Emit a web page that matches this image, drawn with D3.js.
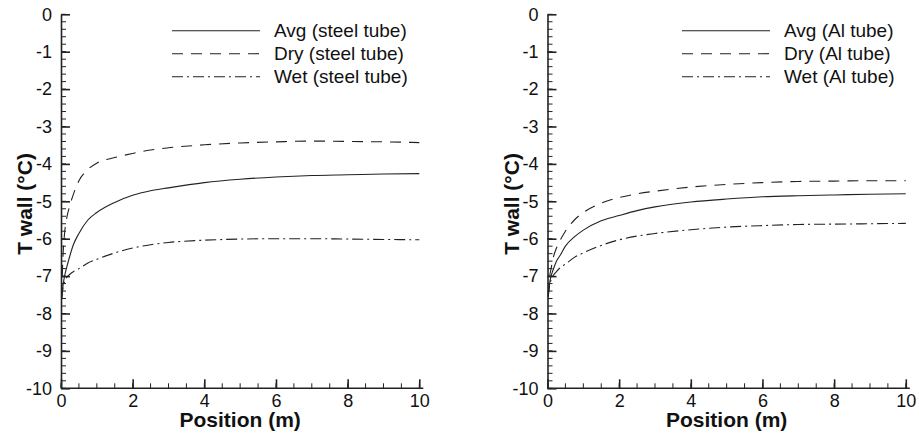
<!DOCTYPE html>
<html lang="en">
<head>
<meta charset="UTF-8">
<title>T wall</title>
<style>
  body { margin: 0; background: #fff; }
  svg { display: block; font-family: Arial, "Liberation Sans", sans-serif; }
  .axis path, .axis line { fill: none; stroke: #222; }
  .tick text { font-family: Arial, "Liberation Sans", sans-serif; font-size: 18px; fill: #111; }
  .title { font-size: 21px; font-weight: bold; fill: #111; }
  .legend text { font-size: 19px; fill: #111; }
</style>
</head>
<body>
<script src="https://cdn.jsdelivr.net/npm/d3@7"></script>
<script>
// data
var position = [0.02, 0.05, 0.1, 0.15, 0.25, 0.35, 0.5, 0.75, 1, 1.5, 2, 2.5, 3, 4, 5, 6, 7, 8, 9, 10]

var steelAvg = [-7.6, -7.3, -7.0, -6.8, -6.45, -6.15, -5.86, -5.5, -5.3, -5.03, -4.84, -4.72, -4.64, -4.5, -4.41, -4.35, -4.31, -4.29, -4.27, -4.26]
var steelDry = [-7.5, -6.6, -5.85, -5.5, -5.1, -4.8, -4.45, -4.15, -3.98, -3.83, -3.72, -3.63, -3.57, -3.49, -3.44, -3.41, -3.39, -3.4, -3.41, -3.43]
var steelWet = [-7.6, -7.35, -7.15, -7.05, -6.95, -6.88, -6.8, -6.65, -6.55, -6.38, -6.25, -6.16, -6.1, -6.04, -6.01, -6.0, -6.0, -6.01, -6.02, -6.03]

var alAvg = [-7.55, -7.25, -7.0, -6.85, -6.6, -6.45, -6.2, -5.95, -5.77, -5.52, -5.38, -5.25, -5.15, -5.02, -4.94, -4.88, -4.85, -4.83, -4.81, -4.8]
var alDry = [-7.5, -7.1, -6.8, -6.55, -6.25, -6.05, -5.8, -5.5, -5.3, -5.05, -4.9, -4.8, -4.73, -4.62, -4.55, -4.5, -4.47, -4.46, -4.45, -4.45]
var alWet = [-7.55, -7.3, -7.1, -7.0, -6.88, -6.78, -6.68, -6.5, -6.38, -6.18, -6.03, -5.93, -5.86, -5.76, -5.69, -5.65, -5.62, -5.61, -5.6, -5.59]

var xTicks = [0, 2, 4, 6, 8, 10]
var yTicks = [0, -1, -2, -3, -4, -5, -6, -7, -8, -9, -10]

var styles = ['none', '11,8', '11,4,2,4']

var panels = [
  { left: 61, names: ['Avg (steel tube)', 'Dry (steel tube)', 'Wet (steel tube)'], series: [steelAvg, steelDry, steelWet], legendX: 172 },
  { left: 547.5, names: ['Avg (Al tube)', 'Dry (Al tube)', 'Wet (Al tube)'], series: [alAvg, alDry, alWet], legendX: 682 }
]

var width = 919, height = 434
var svg = d3.select('body').append('svg')
  .attr('width', width)
  .attr('height', height)

var plotTop = 14.3, plotBottom = 388.3, plotW = 358.3
var plain = function (d) { return String(d) }  // hyphen minus like the original

panels.forEach(function (p) {
  var x = d3.scaleLinear().domain([0, 10]).range([p.left, p.left + plotW])
  var y = d3.scaleLinear().domain([-10, 0]).range([plotBottom, plotTop])

  // minor ticks
  var g = svg.append('g')
  g.selectAll('.ymin').data(d3.range(-10, 0.01, 0.2))
    .enter().append('line')
    .attr('x1', p.left).attr('x2', p.left + 5)
    .attr('y1', function (d) { return y(d) }).attr('y2', function (d) { return y(d) })
    .attr('stroke', '#222').attr('stroke-width', 1)
  g.selectAll('.xmin').data(d3.range(0, 10.01, 0.5))
    .enter().append('line')
    .attr('x1', function (d) { return x(d) }).attr('x2', function (d) { return x(d) })
    .attr('y1', plotBottom).attr('y2', plotBottom - 5)
    .attr('stroke', '#222').attr('stroke-width', 1)

  // axes, ticks pointing inward
  var xAxis = d3.axisBottom(x).tickValues(xTicks).tickFormat(plain).tickSizeInner(-9).tickSizeOuter(0).tickPadding(6)
  var yAxis = d3.axisLeft(y).tickValues(yTicks).tickFormat(plain).tickSizeInner(-9).tickSizeOuter(0).tickPadding(9)

  var gx = svg.append('g').attr('class', 'axis')
    .attr('transform', 'translate(0,' + plotBottom + ')')
    .call(xAxis)
  gx.select('.domain').attr('d', 'M' + p.left + ',0H' + (p.left + plotW + 4)).attr('stroke-width', 1.6)
  gx.selectAll('.tick line').attr('stroke-width', 1.6)

  var gy = svg.append('g').attr('class', 'axis')
    .attr('transform', 'translate(' + p.left + ',0)')
    .call(yAxis)
  gy.select('.domain').attr('stroke-width', 1.6)
  gy.selectAll('.tick line').attr('stroke-width', 1.6)

  // curves
  var line = d3.line()
    .x(function (d) { return x(d[0]) })
    .y(function (d) { return y(d[1]) })
    .curve(d3.curveMonotoneX)

  p.series.forEach(function (s, i) {
    svg.append('path')
      .datum(position.map(function (v, k) { return [v, s[k]] }))
      .attr('d', line)
      .attr('fill', 'none')
      .attr('stroke', '#222')
      .attr('stroke-width', 1.1)
      .attr('stroke-dasharray', styles[i])
  })

  // titles
  svg.append('text').attr('class', 'title')
    .attr('x', p.left + plotW / 2).attr('y', 427)
    .attr('text-anchor', 'middle')
    .text('Position (m)')
  svg.append('text').attr('class', 'title')
    .attr('transform', 'translate(' + (p.left - 29) + ',' + 204 + ') rotate(-90)')
    .attr('text-anchor', 'middle')
    .text('T wall (°C)')

  // legend
  var lg = svg.append('g').attr('class', 'legend')
  p.names.forEach(function (n, i) {
    var yy = 30.7 + i * 23
    lg.append('line')
      .attr('x1', p.legendX).attr('x2', p.legendX + 88)
      .attr('y1', yy).attr('y2', yy)
      .attr('stroke', '#222').attr('stroke-width', 1.1)
      .attr('stroke-dasharray', styles[i])
    lg.append('text')
      .attr('x', p.legendX + 102).attr('y', yy + 6.5)
      .text(n)
  })
})
</script>
</body>
</html>
